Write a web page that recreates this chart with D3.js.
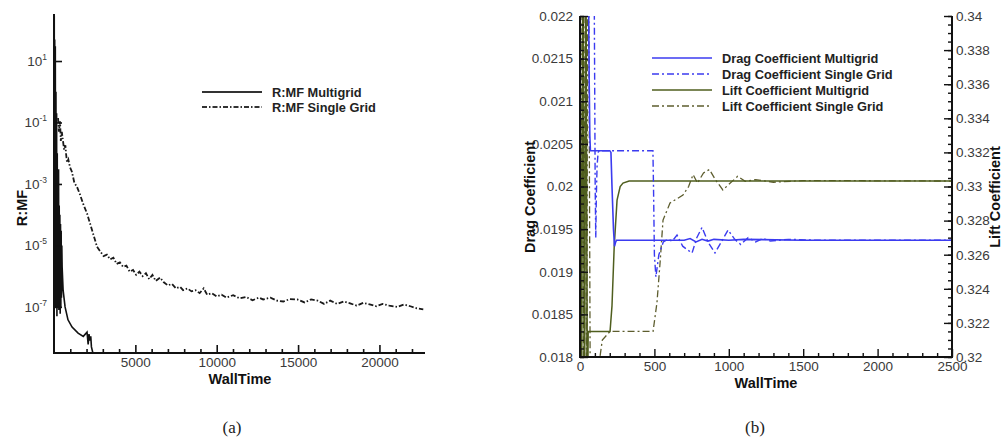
<!DOCTYPE html>
<html>
<head>
<meta charset="utf-8">
<script src="https://cdn.jsdelivr.net/npm/d3@7"></script>
<style>
  html, body { margin: 0; padding: 0; background: #fff; }
  svg { display: block; }
  .tick-label { font-family: "Liberation Sans", Arial, sans-serif; font-size: 13.5px; fill: #3a3a3a; }
  .axis-title { font-family: "Liberation Sans", Arial, sans-serif; font-size: 14.5px; font-weight: bold; fill: #111; }
  .legend-text { font-family: "Liberation Sans", Arial, sans-serif; font-size: 12.8px; font-weight: bold; fill: #222; }
  .caption { font-family: "Liberation Serif", "DejaVu Serif", serif; font-size: 17px; fill: #222; }
</style>
</head>
<body>
<script>
// ---------- Panel (a): mass-flow residual vs wall time ----------
const resTickExponents = [1, -1, -3, -5, -7];
const resXTicks = [5000, 10000, 15000, 20000];

const mgTime = [0, 15, 30, 45, 60, 80, 100, 120, 140, 160, 180, 200, 220, 240, 260, 280, 300, 320, 340, 360,
  380, 400, 420, 440, 460, 480, 500, 560, 680, 860, 1110, 1480, 1800, 2030, 2100, 2150, 2214, 2260, 2300, 2400];
const mgResidual = [1e-1, 3e2, 2e-7, 5e1, 1e-7, 3e1, 3e-7, 1e0, 1e-7, 2e-1, 5e-8, 1e-2, 2e-7, 1e-3, 1e-7, 3e-3, 8e-8, 2e-4, 1e-7, 1e-4,
  6e-8, 5e-5, 1e-7, 3e-5, 2e-7, 1e-5, 2e-6, 3.5e-7, 1e-7, 3.8e-8, 2.2e-8, 1.4e-8, 1.1e-8, 1.5e-8, 6e-9, 1.3e-8, 8e-9, 1.1e-8, 5e-9, 3e-9];

const sgTime = [250, 300, 370, 420, 480, 553, 620, 700, 738, 800, 880, 984, 1100, 1250, 1415, 1600, 1800, 2030, 2250, 2450,
  2645, 2850, 3050, 3250, 3444, 3650, 3850, 4050, 4250, 4450, 4650, 4859, 5050, 5250, 5450, 5650, 5850, 6050, 6250, 6519,
  6750, 7000, 7250, 7500, 7750, 7934, 8200, 8450, 8700, 8950, 9200, 9410, 9700, 10000, 10300, 10600, 11009, 11400, 11800, 12200,
  12600, 12854, 13300, 13700, 14100, 14500, 14945, 15400, 15800, 16200, 16600, 16974, 17400, 17800, 18200, 18600, 19004, 19400, 19800, 20200,
  20600, 21095, 21500, 21900, 22300, 22694];
const sgResidual = [1.4e-1, 5e-2, 1.1e-1, 2.5e-2, 5e-2, 2.5e-2, 1.3e-2, 1.8e-2, 1e-2, 5e-3, 6.3e-3, 3.5e-3, 2.5e-3, 1.1e-3, 8e-4, 4.5e-4, 2.2e-4, 1.1e-4, 4.5e-5, 2e-5,
  9e-6, 6.3e-6, 4.5e-6, 5e-6, 3.5e-6, 4e-6, 2.5e-6, 2.8e-6, 2e-6, 2.2e-6, 1.4e-6, 1.6e-6, 1.1e-6, 1.4e-6, 1e-6, 1.25e-6, 8e-7, 1.1e-6, 7e-7, 9e-7,
  6.3e-7, 5e-7, 5.6e-7, 4e-7, 4.5e-7, 3.5e-7, 4e-7, 3.2e-7, 3.5e-7, 2.8e-7, 4e-7, 2.5e-7, 2.8e-7, 2.2e-7, 2.5e-7, 2e-7, 2.4e-7, 1.9e-7, 2.1e-7, 1.65e-7,
  2e-7, 1.75e-7, 2e-7, 1.6e-7, 1.5e-7, 1.8e-7, 1.75e-7, 1.4e-7, 1.75e-7, 1.6e-7, 1.25e-7, 1.6e-7, 1.25e-7, 1.5e-7, 1.3e-7, 1.1e-7, 1.35e-7, 1.2e-7, 1.05e-7, 1.25e-7,
  1.1e-7, 1e-7, 1.2e-7, 1.05e-7, 9e-8, 8.3e-8];

// ---------- Panel (b): drag and lift coefficients vs wall time ----------
const coefXTicks = [0, 500, 1000, 1500, 2000, 2500];
const dragTicks = [0.018, 0.0185, 0.019, 0.0195, 0.02, 0.0205, 0.021, 0.0215, 0.022];
const dragTickLabels = ["0.018", "0.0185", "0.019", "0.0195", "0.02", "0.0205", "0.021", "0.0215", "0.022"];
const liftTicks = [0.32, 0.322, 0.324, 0.326, 0.328, 0.33, 0.332, 0.334, 0.336, 0.338, 0.34];
const liftTickLabels = ["0.32", "0.322", "0.324", "0.326", "0.328", "0.33", "0.332", "0.334", "0.336", "0.338", "0.34"];

const dragMgTime = [0, 10, 20, 30, 40, 50, 58, 62, 66, 70, 200, 208, 215, 225, 232, 238, 245, 260, 300, 700,
  740, 780, 820, 860, 900, 1000, 1100, 1500, 2000, 2500];
const dragMg = [0.0240, 0.0225, 0.0236, 0.0224, 0.0232, 0.0228, 0.0221, 0.0212, 0.0206, 0.02042, 0.02042, 0.02040, 0.0200, 0.0195, 0.01930, 0.01934, 0.01937, 0.01937, 0.01937, 0.01937,
  0.01939, 0.01935, 0.01938, 0.01936, 0.01938, 0.01937, 0.01938, 0.01937, 0.01937, 0.01937];

const dragSgTime = [0, 20, 40, 60, 80, 95, 102, 106, 110, 115, 122, 130, 490, 494, 500, 510, 530, 560, 590, 620,
  652, 690, 720, 753, 785, 820, 860, 907, 950, 995, 1040, 1080, 1130, 1180, 1230, 1280, 1400, 1600, 2000, 2500];
const dragSg = [0.0240, 0.0235, 0.0230, 0.0236, 0.0228, 0.0225, 0.0200, 0.01940, 0.0199, 0.02025, 0.02040, 0.02042, 0.02042, 0.0200, 0.0192, 0.01894, 0.0192, 0.01935, 0.01938, 0.01936,
  0.01943, 0.01930, 0.01926, 0.01922, 0.01940, 0.01952, 0.01935, 0.01922, 0.01935, 0.01949, 0.01938, 0.01932, 0.01940, 0.01935, 0.01939, 0.01936, 0.01938, 0.01937, 0.01937, 0.01937];

const liftMgTime = [0, 10, 20, 30, 40, 50, 55, 202, 215, 230, 249, 270, 289, 330, 2500];
const liftMg = [0.345, 0.314, 0.346, 0.315, 0.344, 0.316, 0.3215, 0.3215, 0.3230, 0.3265, 0.3292, 0.3300, 0.3302, 0.33032, 0.33032];

const liftSgTime = [5, 15, 25, 35, 45, 52, 60, 70, 120, 134, 150, 202, 491, 517, 538, 558, 605, 692, 730, 760,
  790, 830, 870, 910, 960, 1010, 1060, 1110, 1180, 1300, 1500, 2500];
const liftSg = [0.316, 0.345, 0.315, 0.344, 0.314, 0.346, 0.339, 0.315, 0.315, 0.3200, 0.3210, 0.3215, 0.3215, 0.32317, 0.32551, 0.32803, 0.32903, 0.3295, 0.3300, 0.3307,
  0.3302, 0.3308, 0.3310, 0.3304, 0.3298, 0.3302, 0.3306, 0.3303, 0.3304, 0.33025, 0.33035, 0.33032];

const W = 1003, H = 438;
const svg = d3.select("body").append("svg").attr("width", W).attr("height", H);

const zip = (xs, ys) => xs.map((x, i) => [x, ys[i]]);

// ===== Panel (a) =====
const a = { left: 54, right: 425, top: 14, bottom: 353 };
const xA = d3.scaleLinear().domain([0, 22800]).range([a.left, a.right]);
const yA = d3.scaleLog().domain([Math.pow(10, -8.5), Math.pow(10, 2.53)]).range([a.bottom, a.top]);

svg.append("clipPath").attr("id", "clipA").append("rect")
  .attr("x", a.left).attr("y", a.top).attr("width", a.right - a.left).attr("height", a.bottom - a.top);

const gA = svg.append("g");
const lineA = d3.line().x(d => xA(d[0])).y(d => yA(d[1]));

gA.append("path").attr("clip-path", "url(#clipA)")
  .attr("d", lineA(zip(sgTime, sgResidual)))
  .attr("fill", "none").attr("stroke", "#1a1a1a").attr("stroke-width", 1.8)
  .attr("stroke-dasharray", "5,2,1.5,2");
gA.append("path").attr("clip-path", "url(#clipA)")
  .attr("d", lineA(zip(mgTime, mgResidual)))
  .attr("fill", "none").attr("stroke", "#111").attr("stroke-width", 1.6);

function cleanTickText(g) {
  g.selectAll(".tick text").attr("class", "tick-label")
    .attr("font-size", null).attr("fill", null).attr("font-family", null);
}

// axes of panel (a): ticks point inward
const axAx = gA.append("g").attr("transform", `translate(0,${a.bottom})`)
  .call(d3.axisBottom(xA).tickValues(resXTicks).tickSize(-8).tickFormat(d3.format("d")));
const axAxMinor = gA.append("g").attr("transform", `translate(0,${a.bottom})`)
  .call(d3.axisBottom(xA).tickValues(d3.range(1000, 22800, 1000).filter(v => v % 5000 !== 0)).tickSize(-4).tickFormat(""));
const axAy = gA.append("g").attr("transform", `translate(${a.left},0)`)
  .call(d3.axisLeft(yA).tickValues(resTickExponents.map(e => Math.pow(10, e))).tickSize(-8).tickFormat(""));

[axAx, axAxMinor, axAy].forEach(g => {
  g.select(".domain").remove();
  g.selectAll(".tick line").attr("stroke", "#111").attr("stroke-width", 1.6);
});
cleanTickText(axAx);
axAx.selectAll(".tick text").attr("dy", "0.71em").attr("y", 4);

// exponent labels for the log axis
resTickExponents.forEach(e => {
  const t = gA.append("text").attr("class", "tick-label")
    .attr("x", a.left - 7).attr("y", yA(Math.pow(10, e)) + 5).attr("text-anchor", "end");
  t.append("tspan").text("10");
  t.append("tspan").attr("dy", -6).style("font-size", "8.5px").text(e === 1 ? "1" : "-" + Math.abs(e));
});

gA.append("line").attr("x1", a.left).attr("x2", a.left).attr("y1", a.top).attr("y2", a.bottom + 1)
  .attr("stroke", "#111").attr("stroke-width", 2);
gA.append("line").attr("x1", a.left - 1).attr("x2", a.right).attr("y1", a.bottom).attr("y2", a.bottom)
  .attr("stroke", "#111").attr("stroke-width", 2);

gA.append("text").attr("class", "axis-title").attr("x", 240).attr("y", 384).attr("text-anchor", "middle").text("WallTime");
gA.append("text").attr("class", "axis-title").attr("text-anchor", "middle")
  .attr("transform", "translate(27,208) rotate(-90)").text("R:MF");

// legend (a)
const legA = [
  { label: "R:MF Multigrid", dash: null },
  { label: "R:MF Single Grid", dash: "5,2,1.5,2" }
];
legA.forEach((d, i) => {
  const y = 92 + i * 15;
  gA.append("line").attr("x1", 202).attr("x2", 262).attr("y1", y).attr("y2", y)
    .attr("stroke", "#333").attr("stroke-width", 1.8).attr("stroke-dasharray", d.dash);
  gA.append("text").attr("class", "legend-text").attr("x", 272).attr("y", y + 4.5).text(d.label);
});

// ===== Panel (b) =====
const b = { left: 580, right: 952, top: 16, bottom: 357 };
const xB = d3.scaleLinear().domain([0, 2500]).range([b.left, b.right]);
const yDrag = d3.scaleLinear().domain([0.018, 0.022]).range([b.bottom, b.top]);
const yLift = d3.scaleLinear().domain([0.32, 0.34]).range([b.bottom, b.top]);

svg.append("clipPath").attr("id", "clipB").append("rect")
  .attr("x", b.left).attr("y", b.top).attr("width", b.right - b.left).attr("height", b.bottom - b.top);

const gB = svg.append("g");
const lineLift = d3.line().x(d => xB(d[0])).y(d => yLift(d[1]));
const lineDrag = d3.line().x(d => xB(d[0])).y(d => yDrag(d[1]));

const liftMgColor = "#4f5e1e", liftSgColor = "#5d5d2e", dragColor = "#3b3bf0";
const dashB = "7,3,2,3";

gB.append("path").attr("clip-path", "url(#clipB)").attr("d", lineLift(zip(liftSgTime, liftSg)))
  .attr("fill", "none").attr("stroke", liftSgColor).attr("stroke-width", 1.3).attr("stroke-dasharray", dashB);
gB.append("path").attr("clip-path", "url(#clipB)").attr("d", lineLift(zip(liftMgTime, liftMg)))
  .attr("fill", "none").attr("stroke", liftMgColor).attr("stroke-width", 1.5);
gB.append("path").attr("clip-path", "url(#clipB)").attr("d", lineDrag(zip(dragSgTime, dragSg)))
  .attr("fill", "none").attr("stroke", dragColor).attr("stroke-width", 1.4).attr("stroke-dasharray", dashB);
gB.append("path").attr("clip-path", "url(#clipB)").attr("d", lineDrag(zip(dragMgTime, dragMg)))
  .attr("fill", "none").attr("stroke", dragColor).attr("stroke-width", 1.6);

function styleAxis(g) {
  g.select(".domain").remove();
  g.selectAll(".tick line").attr("stroke", "#111").attr("stroke-width", 1.4);
  cleanTickText(g);
}

const bx = gB.append("g").attr("transform", `translate(0,${b.bottom})`)
  .call(d3.axisBottom(xB).tickValues(coefXTicks).tickSize(-8).tickFormat(d3.format("d")));
const bxMinor = gB.append("g").attr("transform", `translate(0,${b.bottom})`)
  .call(d3.axisBottom(xB).tickValues(d3.range(100, 2500, 100).filter(v => v % 500 !== 0)).tickSize(-4).tickFormat(""));
const byL = gB.append("g").attr("transform", `translate(${b.left},0)`)
  .call(d3.axisLeft(yDrag).tickValues(dragTicks).tickSize(-8).tickPadding(15).tickFormat((d, i) => dragTickLabels[i]));
const byLMinor = gB.append("g").attr("transform", `translate(${b.left},0)`)
  .call(d3.axisLeft(yDrag).tickValues(d3.range(0, 41).map(i => 0.018 + i * 0.0001)).tickSize(-4).tickFormat(""));
const byR = gB.append("g").attr("transform", `translate(${b.right},0)`)
  .call(d3.axisRight(yLift).tickValues(liftTicks).tickSize(-8).tickPadding(12).tickFormat((d, i) => liftTickLabels[i]));
const byRMinor = gB.append("g").attr("transform", `translate(${b.right},0)`)
  .call(d3.axisRight(yLift).tickValues(d3.range(0, 41).map(i => 0.32 + i * 0.0005)).tickSize(-4).tickFormat(""));
[bx, bxMinor, byL, byLMinor, byR, byRMinor].forEach(styleAxis);
bx.selectAll(".tick text").attr("dy", "0.71em").attr("y", 4.5);
byL.selectAll(".tick text").attr("x", -7);
byR.selectAll(".tick text").attr("x", 4);

gB.append("line").attr("x1", b.left).attr("x2", b.left).attr("y1", b.top).attr("y2", b.bottom + 1)
  .attr("stroke", "#111").attr("stroke-width", 2);
gB.append("line").attr("x1", b.right).attr("x2", b.right).attr("y1", b.top).attr("y2", b.bottom + 1)
  .attr("stroke", "#111").attr("stroke-width", 2);
gB.append("line").attr("x1", b.left - 1).attr("x2", b.right + 1).attr("y1", b.bottom).attr("y2", b.bottom)
  .attr("stroke", "#111").attr("stroke-width", 2);

gB.append("text").attr("class", "axis-title").attr("x", 766).attr("y", 388).attr("text-anchor", "middle").text("WallTime");
gB.append("text").attr("class", "axis-title").attr("text-anchor", "middle")
  .attr("transform", "translate(535,197) rotate(-90)").text("Drag Coefficient");
gB.append("text").attr("class", "axis-title").attr("text-anchor", "middle")
  .attr("transform", "translate(1000,197) rotate(-90)").text("Lift Coefficient");

// legend (b)
const legB = [
  { label: "Drag Coefficient Multigrid", color: dragColor, dash: null },
  { label: "Drag Coefficient Single Grid", color: dragColor, dash: dashB },
  { label: "Lift Coefficient Multigrid", color: liftMgColor, dash: null },
  { label: "Lift Coefficient Single Grid", color: liftSgColor, dash: dashB }
];
legB.forEach((d, i) => {
  const y = 58 + i * 16;
  gB.append("line").attr("x1", 652).attr("x2", 712).attr("y1", y).attr("y2", y)
    .attr("stroke", d.color).attr("stroke-width", 1.6).attr("stroke-dasharray", d.dash);
  gB.append("text").attr("class", "legend-text").attr("x", 722).attr("y", y + 4.5).text(d.label);
});

// sub-figure captions
svg.append("text").attr("class", "caption").attr("x", 232).attr("y", 433).attr("text-anchor", "middle").text("(a)");
svg.append("text").attr("class", "caption").attr("x", 755).attr("y", 433).attr("text-anchor", "middle").text("(b)");
</script>
</body>
</html>
